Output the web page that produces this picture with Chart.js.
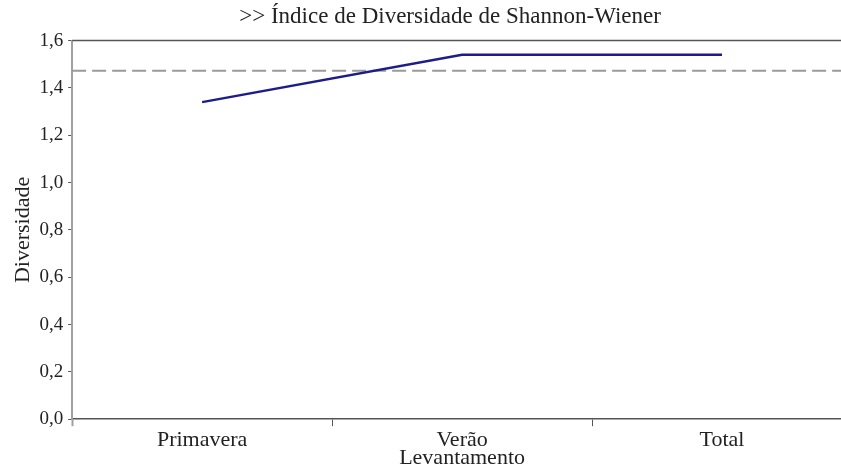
<!DOCTYPE html>
<html>
<head>
<meta charset="utf-8">
<script src="https://cdn.jsdelivr.net/npm/chart.js@4.4.0/dist/chart.umd.min.js"></script>
<style>
  html, body { margin: 0; padding: 0; background: #fff; overflow: hidden; }
  #wrap { width: 841px; height: 472px; overflow: hidden; }
</style>
</head>
<body>
<!-- the reference is cropped on the right, so the canvas is a bit wider than the window -->
<div id="wrap"><canvas id="myChart" width="906" height="472"></canvas></div>
<script>
// data
const categories = ["Primavera", "Verão", "Total"];
const diversity = [1.34, 1.54, 1.54];
const referenceLevel = 1.473; // dashed line
const yTickStep = 0.2;

const serif = "'Liberation Serif', 'Times New Roman', serif";
const comma = (v) => v.toFixed(1).replace(".", ",");

// ! top frame line of the plot + title centred a bit left of the plot centre
const frameAndTitle = {
  id: "frameAndTitle",
  beforeDraw(chart) {
    const t = chart.titleBlock;
    if (t) {
      t.left = chart.chartArea.left - 24;
      t.right = chart.chartArea.right;
    }
  },
  afterDraw(chart) {
    const { ctx, chartArea } = chart;
    ctx.save();
    ctx.strokeStyle = "#555";
    ctx.lineWidth = 1.5;
    ctx.beginPath();
    ctx.moveTo(chartArea.left, chartArea.top);
    ctx.lineTo(chartArea.right, chartArea.top);
    ctx.stroke();
    ctx.restore();
  },
};

const data = {
  datasets: [
    {
      label: "Diversidade",
      data: diversity.map((v, i) => ({ x: i + 0.5, y: v })),
      borderColor: "#1c1c8a",
      borderWidth: 2.5,
      pointRadius: 0,
      tension: 0,
    },
    {
      label: "Média",
      data: [
        { x: 0, y: referenceLevel },
        { x: categories.length, y: referenceLevel },
      ],
      borderColor: "#9a9a9a",
      borderWidth: 2,
      borderDash: [14, 6],
      pointRadius: 0,
    },
  ],
};

const config = {
  type: "line",
  data,
  plugins: [frameAndTitle],
  options: {
    responsive: false,
    animation: false,
    layout: { padding: { top: 0, right: 54, left: 0, bottom: 1 } },
    plugins: {
      legend: { display: false },
      tooltip: { enabled: false },
      title: {
        display: true,
        text: ">> Índice de Diversidade de Shannon-Wiener",
        color: "#222",
        font: { family: serif, size: 23, weight: "normal" },
        padding: { top: 3, bottom: 10 },
      },
    },
    scales: {
      x: {
        type: "linear",
        min: 0,
        max: categories.length,
        afterBuildTicks: (scale) => {
          const ticks = [];
          for (let v = 0; v <= categories.length; v += 0.5) ticks.push({ value: v });
          scale.ticks = ticks;
        },
        ticks: {
          autoSkip: false,
          maxRotation: 0,
          color: "#222",
          font: { family: serif, size: 22 },
          padding: 1,
          callback: (v) => (Number.isInteger(v) ? "" : categories[Math.floor(v)]),
        },
        grid: {
          drawOnChartArea: false,
          tickLength: 7,
          tickColor: (ctx) => {
            if (!ctx.tick) return "rgba(0,0,0,0)";
            if (ctx.tick.value === 0) return "#a0a0a0";
            return Number.isInteger(ctx.tick.value) ? "#555" : "rgba(0,0,0,0)";
          },
          tickWidth: (ctx) => (ctx.tick && ctx.tick.value === 0 ? 2 : 1),
        },
        border: { color: "#555", width: 1.5 },
        title: {
          display: true,
          text: "Levantamento",
          color: "#222",
          font: { family: serif, size: 22 },
          padding: { top: -10, bottom: 0 },
        },
      },
      y: {
        min: 0,
        max: 1.6,
        ticks: {
          stepSize: yTickStep,
          color: "#222",
          font: { family: serif, size: 19 },
          padding: 5,
          callback: (v) => comma(v),
        },
        grid: {
          drawOnChartArea: false,
          tickLength: 4,
          tickColor: "#555",
        },
        border: { color: "#a0a0a0", width: 2 },
        title: {
          display: true,
          text: "Diversidade",
          color: "#222",
          font: { family: serif, size: 22 },
          padding: { top: 10, bottom: -2 },
        },
      },
    },
  },
};

const myChart = new Chart(document.getElementById("myChart"), config);
</script>
</body>
</html>
